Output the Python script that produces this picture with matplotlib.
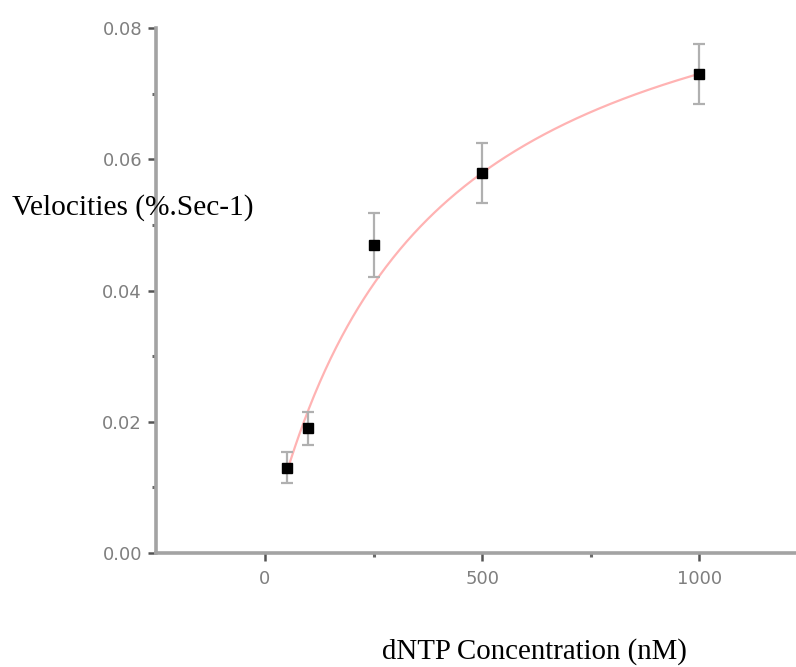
import matplotlib
matplotlib.use("Agg")
import matplotlib.pyplot as plt
import numpy as np
from matplotlib.ticker import MultipleLocator, FixedLocator

# measured velocities vs dNTP concentration
conc = [50, 100, 250, 500, 1000]
vel = [0.0130, 0.0190, 0.0469, 0.0579, 0.0730]
err = [0.0024, 0.0025, 0.0049, 0.0046, 0.0046]

# Michaelis-Menten fit parameters
VMAX = 0.0988
KM = 353.0

AXIS = "#a3a3a3"; TICKLAB = "#7f7f7f"; FIT = "#ffb3b3"; ERR = "#b0b0b0"

fig = plt.figure(figsize=(7.96, 6.67), dpi=100)
ax = fig.add_axes([156 / 796, 114 / 667, 640 / 796, 525 / 667])

s = np.linspace(conc[0], conc[-1], 300)
ax.plot(s, VMAX * s / (KM + s), color=FIT, lw=1.6, zorder=2)
ax.errorbar(conc, vel, yerr=err, fmt="none", ecolor=ERR, elinewidth=1.6,
            capsize=4.5, capthick=1.6, zorder=3)
ax.plot(conc, vel, "s", color="black", ms=7.5, zorder=4)

ax.set_xlim(-251, 1223)
ax.set_ylim(0, 0.08)
for sp in ("top", "right"):
    ax.spines[sp].set_visible(False)
for sp in ("left", "bottom"):
    ax.spines[sp].set_color(AXIS)
    ax.spines[sp].set_linewidth(2.6)

ax.xaxis.set_major_locator(FixedLocator([0, 500, 1000]))
ax.xaxis.set_minor_locator(FixedLocator([250, 750]))
ax.yaxis.set_major_locator(MultipleLocator(0.02))
ax.yaxis.set_minor_locator(MultipleLocator(0.01))
ax.yaxis.set_major_formatter(matplotlib.ticker.FormatStrFormatter("%.2f"))
ax.tick_params(axis="both", which="major", colors="#555555", width=1.8,
               length=6, labelsize=13, labelcolor=TICKLAB, pad=6)
ax.tick_params(axis="both", which="minor", colors="#6a6a6a", width=2.2,
               length=3)
ax.tick_params(axis="y", which="major", pad=4)

fig.text(12 / 796, 1 - 215 / 667, "Velocities (%.Sec-1)", ha="left",
         va="baseline", fontsize=21.2, family="Liberation Serif", color="black")
fig.text(382 / 796, 1 - 659 / 667, "dNTP Concentration (nM)", ha="left",
         va="baseline", fontsize=20.8, family="Liberation Serif", color="black")

fig.savefig("out.png", dpi=100, facecolor="white")
